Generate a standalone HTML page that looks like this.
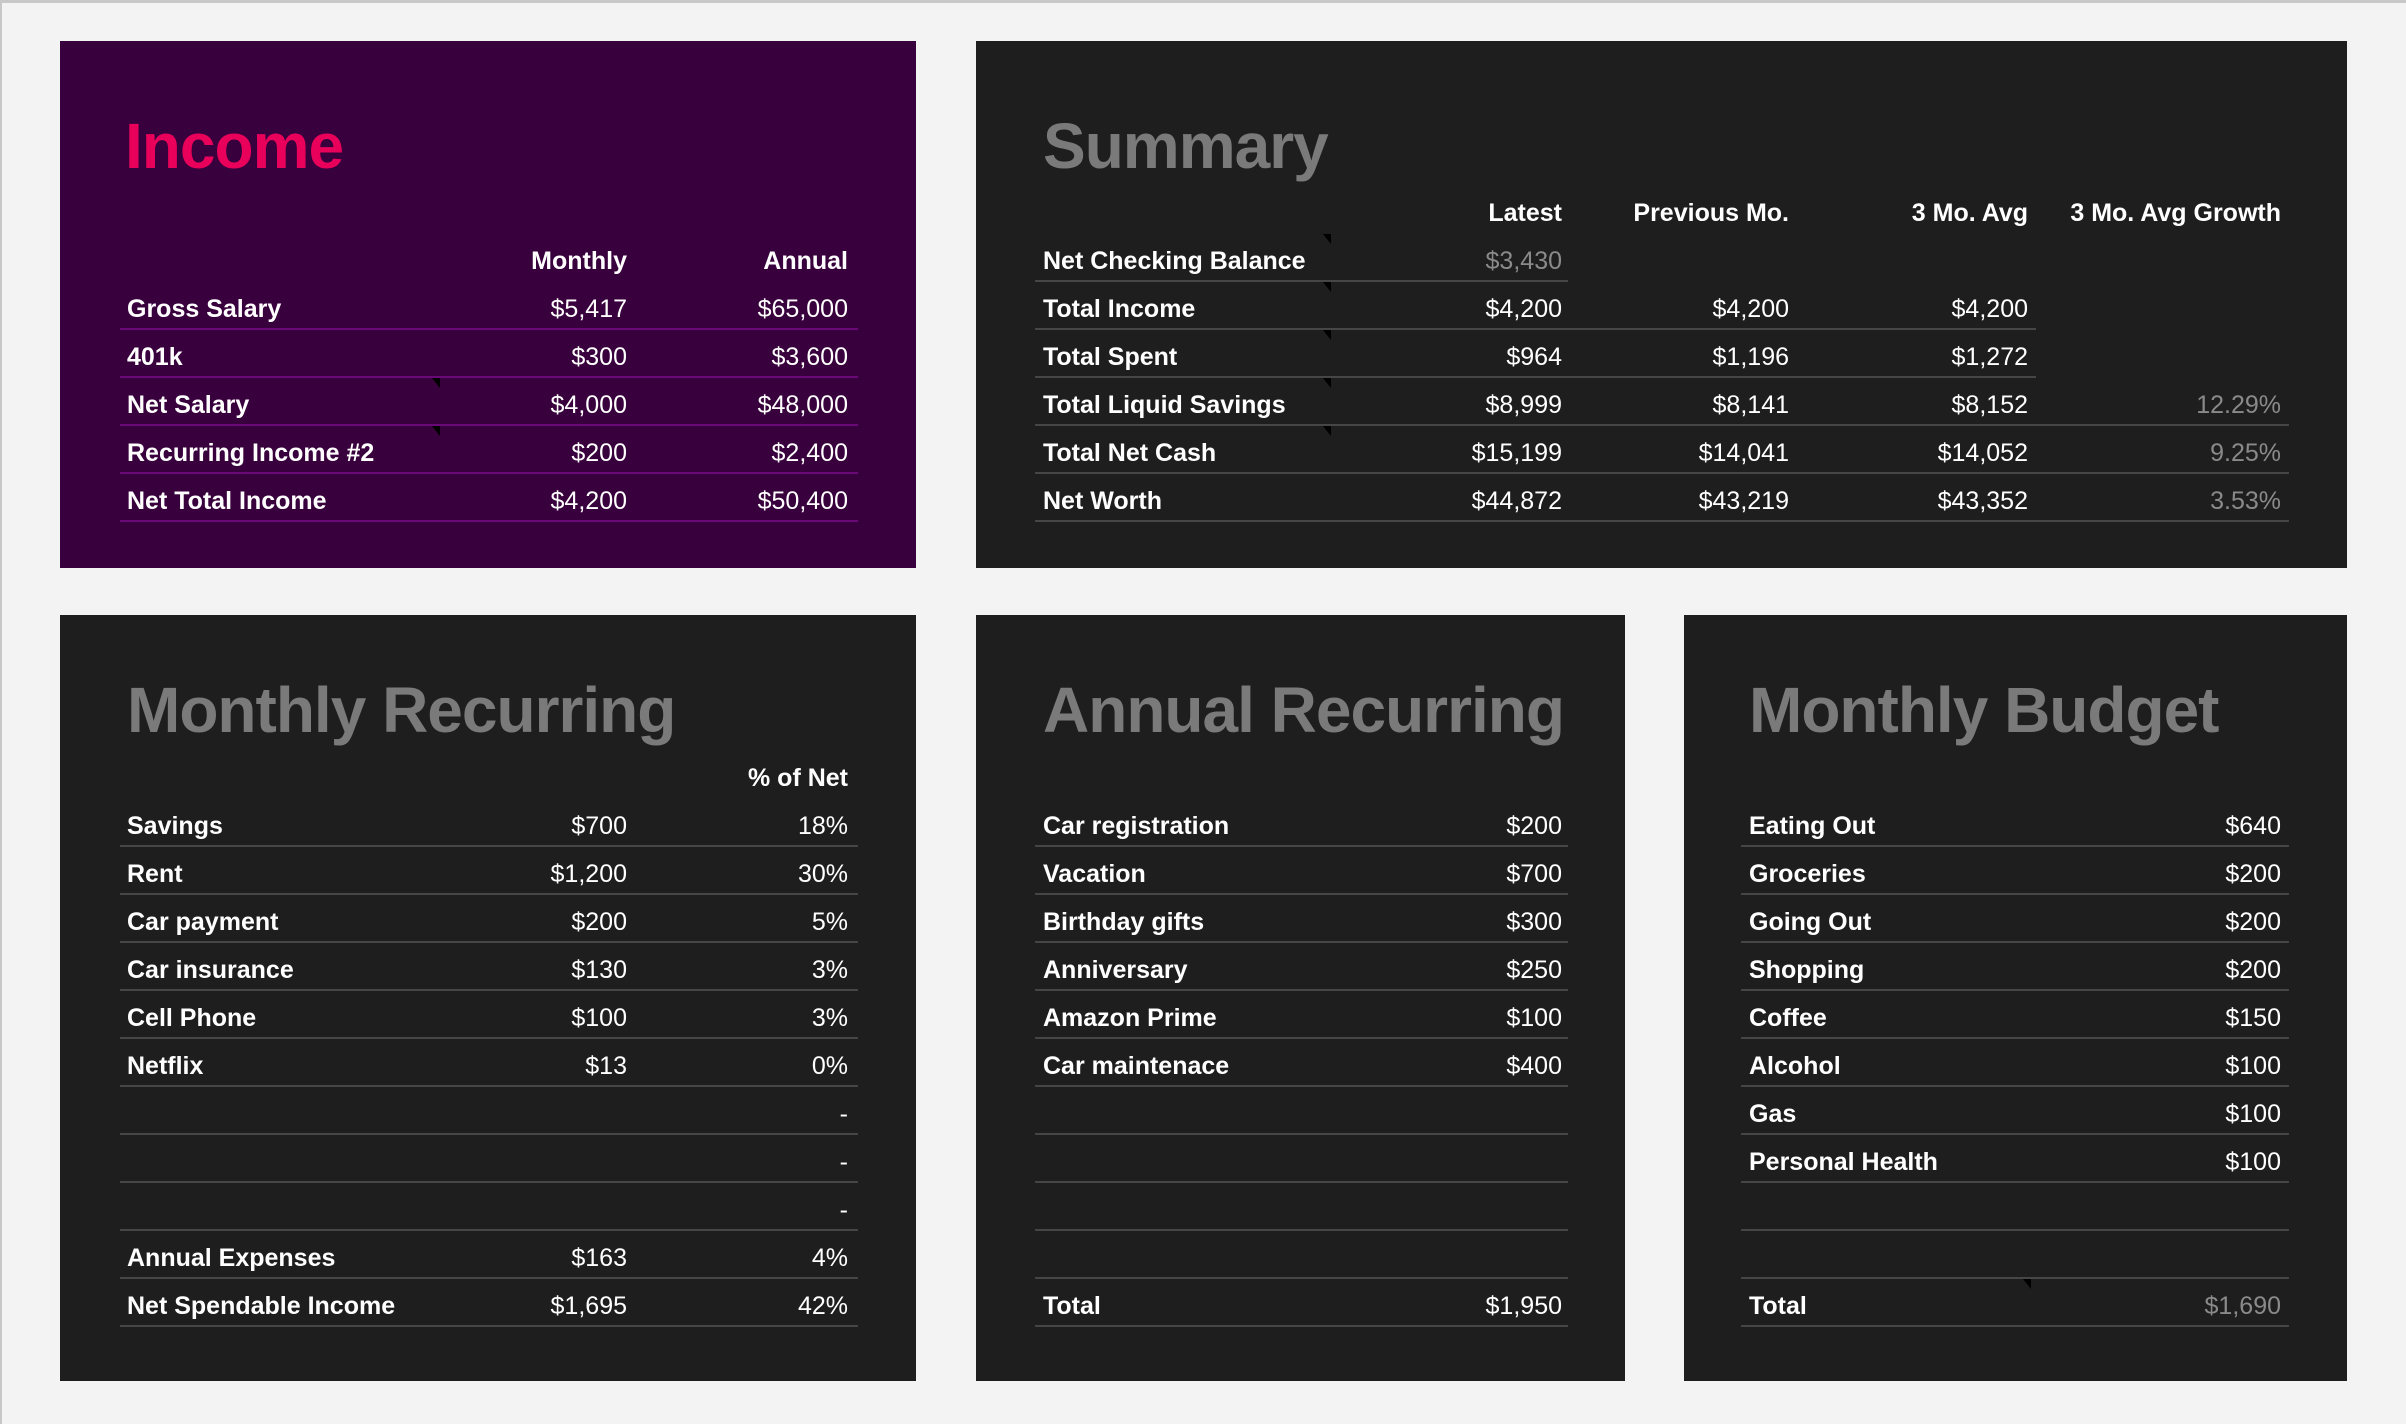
<!DOCTYPE html>
<html><head><meta charset="utf-8"><style>
*{margin:0;padding:0;box-sizing:border-box}
body{width:2406px;height:1424px;background:#f3f3f3;position:relative;overflow:hidden;font-family:"Liberation Sans",sans-serif;font-weight:bold}
.p{position:absolute}
.purple{background:#38003c}
.dark{background:#1e1e1e}
.t{position:absolute;font-size:64px;line-height:80px;color:#7a7a7a;letter-spacing:-1px;transform:translateY(3px)}
.ln{position:absolute;height:2px;background:#464646}
.pl{background:#6a0a7a}
.tx{position:absolute;font-size:25px;line-height:46px;height:46px;color:#fff;white-space:nowrap;transform:translateY(3px)}
.r{text-align:right;width:300px}
.g{color:#8a8a8a;font-weight:normal}
.n{font-weight:normal}
.tri{position:absolute;width:0;height:0;border-top:10px solid #000;border-left:8px solid transparent}
</style></head><body>
<div class="p" style="left:0;top:0;width:2406px;height:3px;background:#c8c8c8"></div>
<div class="p" style="left:0;top:0;width:2px;height:1424px;background:#c8c8c8"></div>
<div class="p purple" style="left:60px;top:41px;width:856px;height:527px"></div>
<div class="p dark" style="left:976px;top:41px;width:1371px;height:527px"></div>
<div class="p dark" style="left:60px;top:615px;width:856px;height:766px"></div>
<div class="p dark" style="left:976px;top:615px;width:649px;height:766px"></div>
<div class="p dark" style="left:1684px;top:615px;width:663px;height:766px"></div>

<!-- Income -->
<div class="t" style="left:125px;top:103px;color:#e8005a">Income</div>
<div class="tx r" style="left:327px;top:235px">Monthly</div>
<div class="tx r" style="left:548px;top:235px">Annual</div>
<div class="tx" style="left:127px;top:283px">Gross Salary</div><div class="tx r n" style="left:327px;top:283px">$5,417</div><div class="tx r n" style="left:548px;top:283px">$65,000</div><div class="ln pl" style="left:120px;top:328px;width:738px"></div>
<div class="tx" style="left:127px;top:331px">401k</div><div class="tx r n" style="left:327px;top:331px">$300</div><div class="tx r n" style="left:548px;top:331px">$3,600</div><div class="ln pl" style="left:120px;top:376px;width:738px"></div>
<div class="tx" style="left:127px;top:379px">Net Salary</div><div class="tx r n" style="left:327px;top:379px">$4,000</div><div class="tx r n" style="left:548px;top:379px">$48,000</div><div class="ln pl" style="left:120px;top:424px;width:738px"></div>
<div class="tx" style="left:127px;top:427px">Recurring Income #2</div><div class="tx r n" style="left:327px;top:427px">$200</div><div class="tx r n" style="left:548px;top:427px">$2,400</div><div class="ln pl" style="left:120px;top:472px;width:738px"></div>
<div class="tx" style="left:127px;top:475px">Net Total Income</div><div class="tx r n" style="left:327px;top:475px">$4,200</div><div class="tx r n" style="left:548px;top:475px">$50,400</div><div class="ln pl" style="left:120px;top:520px;width:738px"></div>
<div class="tri" style="left:432px;top:378px"></div><div class="tri" style="left:432px;top:426px"></div>

<!-- Summary -->
<div class="t" style="left:1043px;top:103px">Summary</div>
<div class="tx r" style="left:1262px;top:187px">Latest</div>
<div class="tx r" style="left:1489px;top:187px">Previous Mo.</div>
<div class="tx r" style="left:1728px;top:187px">3 Mo. Avg</div>
<div class="tx r" style="left:1981px;top:187px">3 Mo. Avg Growth</div>
<div class="tx" style="left:1043px;top:235px">Net Checking Balance</div><div class="tx r g" style="left:1262px;top:235px">$3,430</div><div class="ln" style="left:1035px;top:280px;width:533px"></div>
<div class="tx" style="left:1043px;top:283px">Total Income</div><div class="tx r n" style="left:1262px;top:283px">$4,200</div><div class="tx r n" style="left:1489px;top:283px">$4,200</div><div class="tx r n" style="left:1728px;top:283px">$4,200</div><div class="ln" style="left:1035px;top:328px;width:1001px"></div>
<div class="tx" style="left:1043px;top:331px">Total Spent</div><div class="tx r n" style="left:1262px;top:331px">$964</div><div class="tx r n" style="left:1489px;top:331px">$1,196</div><div class="tx r n" style="left:1728px;top:331px">$1,272</div><div class="ln" style="left:1035px;top:376px;width:1001px"></div>
<div class="tx" style="left:1043px;top:379px">Total Liquid Savings</div><div class="tx r n" style="left:1262px;top:379px">$8,999</div><div class="tx r n" style="left:1489px;top:379px">$8,141</div><div class="tx r n" style="left:1728px;top:379px">$8,152</div><div class="tx r g" style="left:1981px;top:379px">12.29%</div><div class="ln" style="left:1035px;top:424px;width:1254px"></div>
<div class="tx" style="left:1043px;top:427px">Total Net Cash</div><div class="tx r n" style="left:1262px;top:427px">$15,199</div><div class="tx r n" style="left:1489px;top:427px">$14,041</div><div class="tx r n" style="left:1728px;top:427px">$14,052</div><div class="tx r g" style="left:1981px;top:427px">9.25%</div><div class="ln" style="left:1035px;top:472px;width:1254px"></div>
<div class="tx" style="left:1043px;top:475px">Net Worth</div><div class="tx r n" style="left:1262px;top:475px">$44,872</div><div class="tx r n" style="left:1489px;top:475px">$43,219</div><div class="tx r n" style="left:1728px;top:475px">$43,352</div><div class="tx r g" style="left:1981px;top:475px">3.53%</div><div class="ln" style="left:1035px;top:520px;width:1254px"></div>
<div class="tri" style="left:1323px;top:234px"></div><div class="tri" style="left:1323px;top:282px"></div><div class="tri" style="left:1323px;top:330px"></div><div class="tri" style="left:1323px;top:378px"></div><div class="tri" style="left:1323px;top:426px"></div>

<!-- Monthly Recurring -->
<div class="t" style="left:127px;top:667px">Monthly Recurring</div>
<div class="tx r" style="left:548px;top:752px">% of Net</div>
<div class="tx" style="left:127px;top:800px">Savings</div><div class="tx r n" style="left:327px;top:800px">$700</div><div class="tx r n" style="left:548px;top:800px">18%</div><div class="ln" style="left:120px;top:845px;width:738px"></div>
<div class="tx" style="left:127px;top:848px">Rent</div><div class="tx r n" style="left:327px;top:848px">$1,200</div><div class="tx r n" style="left:548px;top:848px">30%</div><div class="ln" style="left:120px;top:893px;width:738px"></div>
<div class="tx" style="left:127px;top:896px">Car payment</div><div class="tx r n" style="left:327px;top:896px">$200</div><div class="tx r n" style="left:548px;top:896px">5%</div><div class="ln" style="left:120px;top:941px;width:738px"></div>
<div class="tx" style="left:127px;top:944px">Car insurance</div><div class="tx r n" style="left:327px;top:944px">$130</div><div class="tx r n" style="left:548px;top:944px">3%</div><div class="ln" style="left:120px;top:989px;width:738px"></div>
<div class="tx" style="left:127px;top:992px">Cell Phone</div><div class="tx r n" style="left:327px;top:992px">$100</div><div class="tx r n" style="left:548px;top:992px">3%</div><div class="ln" style="left:120px;top:1037px;width:738px"></div>
<div class="tx" style="left:127px;top:1040px">Netflix</div><div class="tx r n" style="left:327px;top:1040px">$13</div><div class="tx r n" style="left:548px;top:1040px">0%</div><div class="ln" style="left:120px;top:1085px;width:738px"></div>
<div class="tx r n" style="left:548px;top:1088px">-</div><div class="ln" style="left:120px;top:1133px;width:738px"></div>
<div class="tx r n" style="left:548px;top:1136px">-</div><div class="ln" style="left:120px;top:1181px;width:738px"></div>
<div class="tx r n" style="left:548px;top:1184px">-</div><div class="ln" style="left:120px;top:1229px;width:738px"></div>
<div class="tx" style="left:127px;top:1232px">Annual Expenses</div><div class="tx r n" style="left:327px;top:1232px">$163</div><div class="tx r n" style="left:548px;top:1232px">4%</div><div class="ln" style="left:120px;top:1277px;width:738px"></div>
<div class="tx" style="left:127px;top:1280px">Net Spendable Income</div><div class="tx r n" style="left:327px;top:1280px">$1,695</div><div class="tx r n" style="left:548px;top:1280px">42%</div><div class="ln" style="left:120px;top:1325px;width:738px"></div>

<!-- Annual Recurring -->
<div class="t" style="left:1043px;top:667px">Annual Recurring</div>
<div class="tx" style="left:1043px;top:800px">Car registration</div><div class="tx r n" style="left:1262px;top:800px">$200</div><div class="ln" style="left:1035px;top:845px;width:533px"></div>
<div class="tx" style="left:1043px;top:848px">Vacation</div><div class="tx r n" style="left:1262px;top:848px">$700</div><div class="ln" style="left:1035px;top:893px;width:533px"></div>
<div class="tx" style="left:1043px;top:896px">Birthday gifts</div><div class="tx r n" style="left:1262px;top:896px">$300</div><div class="ln" style="left:1035px;top:941px;width:533px"></div>
<div class="tx" style="left:1043px;top:944px">Anniversary</div><div class="tx r n" style="left:1262px;top:944px">$250</div><div class="ln" style="left:1035px;top:989px;width:533px"></div>
<div class="tx" style="left:1043px;top:992px">Amazon Prime</div><div class="tx r n" style="left:1262px;top:992px">$100</div><div class="ln" style="left:1035px;top:1037px;width:533px"></div>
<div class="tx" style="left:1043px;top:1040px">Car maintenace</div><div class="tx r n" style="left:1262px;top:1040px">$400</div><div class="ln" style="left:1035px;top:1085px;width:533px"></div>
<div class="ln" style="left:1035px;top:1133px;width:533px"></div>
<div class="ln" style="left:1035px;top:1181px;width:533px"></div>
<div class="ln" style="left:1035px;top:1229px;width:533px"></div>
<div class="ln" style="left:1035px;top:1277px;width:533px"></div>
<div class="tx" style="left:1043px;top:1280px">Total</div><div class="tx r n" style="left:1262px;top:1280px">$1,950</div><div class="ln" style="left:1035px;top:1325px;width:533px"></div>

<!-- Monthly Budget -->
<div class="t" style="left:1749px;top:667px">Monthly Budget</div>
<div class="tx" style="left:1749px;top:800px">Eating Out</div><div class="tx r n" style="left:1981px;top:800px">$640</div><div class="ln" style="left:1741px;top:845px;width:548px"></div>
<div class="tx" style="left:1749px;top:848px">Groceries</div><div class="tx r n" style="left:1981px;top:848px">$200</div><div class="ln" style="left:1741px;top:893px;width:548px"></div>
<div class="tx" style="left:1749px;top:896px">Going Out</div><div class="tx r n" style="left:1981px;top:896px">$200</div><div class="ln" style="left:1741px;top:941px;width:548px"></div>
<div class="tx" style="left:1749px;top:944px">Shopping</div><div class="tx r n" style="left:1981px;top:944px">$200</div><div class="ln" style="left:1741px;top:989px;width:548px"></div>
<div class="tx" style="left:1749px;top:992px">Coffee</div><div class="tx r n" style="left:1981px;top:992px">$150</div><div class="ln" style="left:1741px;top:1037px;width:548px"></div>
<div class="tx" style="left:1749px;top:1040px">Alcohol</div><div class="tx r n" style="left:1981px;top:1040px">$100</div><div class="ln" style="left:1741px;top:1085px;width:548px"></div>
<div class="tx" style="left:1749px;top:1088px">Gas</div><div class="tx r n" style="left:1981px;top:1088px">$100</div><div class="ln" style="left:1741px;top:1133px;width:548px"></div>
<div class="tx" style="left:1749px;top:1136px">Personal Health</div><div class="tx r n" style="left:1981px;top:1136px">$100</div><div class="ln" style="left:1741px;top:1181px;width:548px"></div>
<div class="ln" style="left:1741px;top:1229px;width:548px"></div>
<div class="ln" style="left:1741px;top:1277px;width:548px"></div>
<div class="tx" style="left:1749px;top:1280px">Total</div><div class="tx r g" style="left:1981px;top:1280px">$1,690</div><div class="ln" style="left:1741px;top:1325px;width:548px"></div>
<div class="tri" style="left:2023px;top:1279px"></div>
</body></html>
